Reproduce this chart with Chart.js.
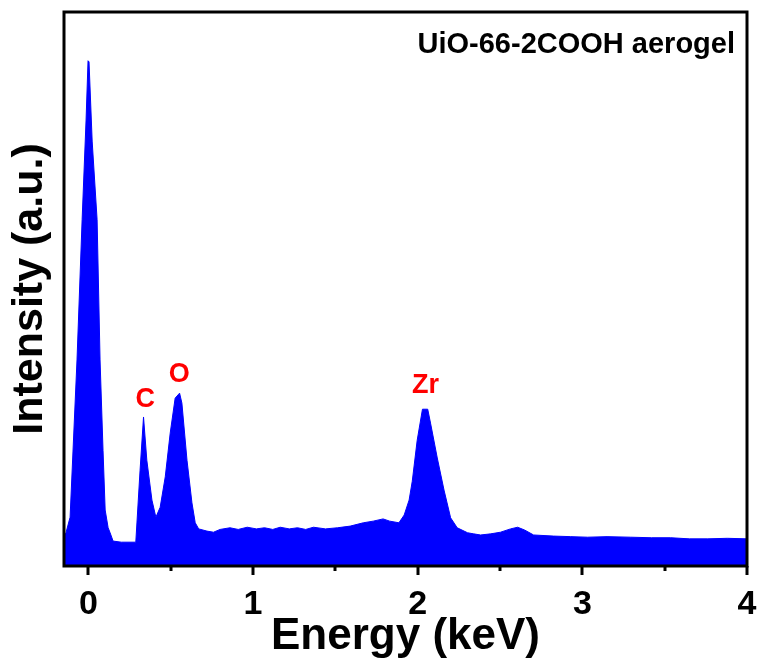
<!DOCTYPE html>
<html>
<head>
<meta charset="utf-8">
<script src="https://cdn.jsdelivr.net/npm/chart.js"></script>
<style>
  html, body { margin: 0; padding: 0; background: #fff; }
  #wrap { width: 763px; height: 664px; }
</style>
</head>
<body>
<div id="wrap"><canvas id="eds" width="763" height="664"></canvas></div>
<script>
// EDS spectrum (intensity in arbitrary units, 0-100)
const energy = [
  -0.148, -0.136, -0.111, -0.069, -0.038, -0.014, -0.002, 0.004, 0.023, 0.053,
  0.071, 0.089, 0.102, 0.120, 0.132, 0.150, 0.200, 0.288, 0.314, 0.335,
  0.355, 0.386, 0.410, 0.436, 0.467, 0.497, 0.527, 0.554, 0.568, 0.599,
  0.629, 0.649, 0.670, 0.720, 0.760, 0.800, 0.860, 0.910, 0.965, 1.020,
  1.070, 1.120, 1.165, 1.220, 1.270, 1.320, 1.367, 1.440, 1.513, 1.590,
  1.670, 1.730, 1.790, 1.830, 1.886, 1.918, 1.948, 1.967, 1.997, 2.029,
  2.061, 2.078, 2.119, 2.160, 2.200, 2.240, 2.303, 2.340, 2.382, 2.443,
  2.503, 2.564, 2.607, 2.649, 2.704, 2.825, 2.930, 3.032, 3.150, 3.294,
  3.420, 3.537, 3.650, 3.762, 3.880, 4.000
];
const intensity = [
  5.6, 6.0, 8.8, 37.2, 62.5, 80.5, 91.2, 91.0, 76.7, 62.5,
  37.2, 20.9, 10.1, 6.9, 6.0, 4.5, 4.3, 4.3, 17.3, 26.9,
  19.1, 11.9, 8.8, 10.6, 16.1, 24.0, 30.3, 31.2, 29.4, 19.1,
  11.4, 7.8, 6.7, 6.3, 6.1, 6.6, 6.9, 6.6, 7.0, 6.7,
  6.9, 6.6, 7.0, 6.7, 6.9, 6.6, 7.0, 6.7, 6.9, 7.2,
  7.8, 8.1, 8.5, 8.1, 7.8, 9.2, 11.9, 15.3, 22.7, 28.3,
  28.3, 25.8, 19.5, 13.7, 8.7, 6.9, 6.0, 5.8, 5.6, 5.8,
  6.1, 6.7, 7.0, 6.5, 5.6, 5.4, 5.3, 5.2, 5.3, 5.2,
  5.1, 5.1, 4.9, 4.9, 5.0, 4.9
];

const xTicks = [0, 0.5, 1, 1.5, 2, 2.5, 3, 3.5, 4];

// element labels, placed in data coordinates
const peakNames = ['C', 'O', 'Zr'];
const peakEnergy = [0.345, 0.552, 2.048];
const peakLabelY = [30.1, 34.5, 32.5];

const sampleName = 'UiO-66-2COOH aerogel';

const FONT = '"Liberation Sans", Arial, Helvetica, sans-serif';

const framePlugin = {
  id: 'frame',
  afterDatasetsDraw(chart) {
    const { ctx, chartArea: a, scales } = chart;
    ctx.save();
    ctx.strokeStyle = '#000';
    ctx.lineWidth = 3;
    ctx.strokeRect(a.left, a.top, a.right - a.left, a.bottom - a.top);

    // tick marks, long for whole keV, short for half
    const xs = scales.x;
    xTicks.forEach(v => {
      const px = Math.round(xs.getPixelForValue(v));
      const len = Number.isInteger(v) ? 9 : 5;
      ctx.beginPath();
      ctx.moveTo(px, a.bottom);
      ctx.lineTo(px, a.bottom + len);
      ctx.stroke();
    });

    // peak labels
    const ys = scales.y;
    ctx.fillStyle = '#ff0000';
    ctx.font = 'bold 27px ' + FONT;
    ctx.textAlign = 'center';
    ctx.textBaseline = 'middle';
    peakNames.forEach((n, i) => {
      ctx.fillText(n, xs.getPixelForValue(peakEnergy[i]), ys.getPixelForValue(peakLabelY[i]));
    });

    // sample name, top right
    ctx.fillStyle = '#000';
    ctx.font = 'bold 29px ' + FONT;
    ctx.textAlign = 'right';
    ctx.fillText(sampleName, a.right - 12, a.top + 33);
    ctx.restore();
  }
};

new Chart(document.getElementById('eds'), {
  type: 'line',
  data: {
    datasets: [{
      data: energy.map((e, i) => ({ x: e, y: intensity[i] })),
      borderColor: '#0000ff',
      backgroundColor: '#0000ff',
      borderWidth: 1,
      pointRadius: 0,
      tension: 0,
      fill: 'start'
    }]
  },
  options: {
    responsive: false,
    devicePixelRatio: 1,
    animation: false,
    layout: { padding: { top: 12, right: 16, left: 0, bottom: 0 } },
    plugins: { legend: { display: false }, tooltip: { enabled: false } },
    scales: {
      x: {
        type: 'linear',
        min: -0.148,
        max: 4,
        afterBuildTicks: s => { s.ticks = xTicks.map(v => ({ value: v })); },
        afterFit: s => { s.height = 98; s.paddingLeft = 0; s.paddingRight = 0; },
        grid: { display: false },
        border: { display: false },
        ticks: {
          autoSkip: false,
          maxRotation: 0,
          padding: 10,
          color: '#000',
          font: { family: FONT, size: 34, weight: 'bold', lineHeight: 1.2 },
          callback: v => Number.isInteger(v) ? String(v) : ''
        },
        title: {
          display: true,
          text: 'Energy (keV)',
          color: '#000',
          font: { family: FONT, size: 44, weight: 'bold', lineHeight: 1.2 },
          padding: { top: 0, bottom: 1 }
        }
      },
      y: {
        min: 0,
        max: 100,
        afterFit: s => { s.width = 64; },
        grid: { display: false },
        border: { display: false },
        ticks: { display: false },
        title: {
          display: true,
          text: 'Intensity (a.u.)',
          color: '#000',
          font: { family: FONT, size: 43, weight: 'bold', lineHeight: 1.2 },
          padding: { top: 4, bottom: 0 }
        }
      }
    }
  },
  plugins: [framePlugin]
});
</script>
</body>
</html>
